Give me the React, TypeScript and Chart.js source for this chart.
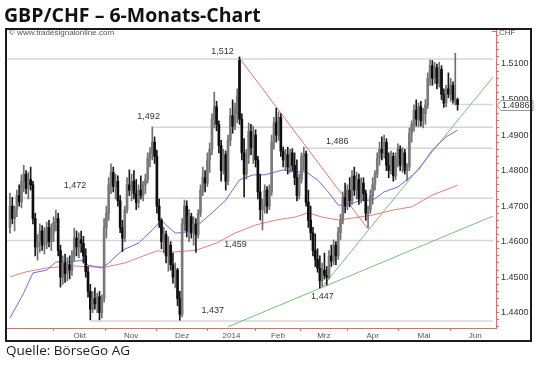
import React, { useEffect, useRef } from 'react';
import { Chart, registerables } from 'chart.js';
Chart.register(...registerables);

// Daily candles (weekday index 0..195)
const opens = [
  1.4640,1.4700,1.4665,1.4690,1.4730,1.4712,1.4770,1.4790,1.4750,1.4775,
  1.4760,1.4665,1.4585,1.4600,1.4630,1.4590,1.4595,1.4640,1.4600,1.4625,
  1.4655,1.4665,1.4575,1.4500,1.4540,1.4510,1.4535,1.4520,1.4560,1.4610,
  1.4585,1.4605,1.4595,1.4560,1.4515,1.4460,1.4410,1.4440,1.4425,1.4445,
  1.4400,1.4440,1.4640,1.4680,1.4760,1.4795,1.4755,1.4770,1.4715,1.4640,
  1.4610,1.4690,1.4760,1.4745,1.4770,1.4735,1.4710,1.4745,1.4730,1.4760,
  1.4775,1.4835,1.4850,1.4880,1.4840,1.4700,1.4660,1.4600,1.4620,1.4560,
  1.4590,1.4535,1.4500,1.4520,1.4440,1.4395,1.4650,1.4700,1.4630,1.4670,
  1.4625,1.4650,1.4620,1.4680,1.4745,1.4780,1.4765,1.4830,1.4860,1.4945,
  1.4980,1.4930,1.4870,1.4800,1.4845,1.4770,1.4885,1.4955,1.4925,1.4960,
  1.5110,1.4945,1.4850,1.4790,1.4840,1.4910,1.4865,1.4900,1.4830,1.4740,
  1.4690,1.4700,1.4745,1.4700,1.4740,1.4880,1.4935,1.4900,1.4950,1.4855,
  1.4830,1.4845,1.4810,1.4850,1.4815,1.4780,1.4730,1.4775,1.4840,1.4847,
  1.4711,1.4660,1.4625,1.4575,1.4550,1.4525,1.4490,1.4520,1.4505,1.4500,
  1.4560,1.4545,1.4590,1.4560,1.4625,1.4660,1.4725,1.4700,1.4745,1.4715,
  1.4785,1.4745,1.4775,1.4720,1.4765,1.4735,1.4680,1.4690,1.4730,1.4760,
  1.4790,1.4835,1.4860,1.4850,1.4880,1.4815,1.4800,1.4840,1.4785,1.4835,
  1.4860,1.4815,1.4850,1.4800,1.4810,1.4905,1.4930,1.4970,1.4945,1.4980,
  1.4940,1.4960,1.4985,1.5060,1.5095,1.5060,1.5090,1.5045,1.5085,1.5015,
  1.4990,1.5030,1.5015,1.5040,1.4995,1.5000,
];
const highs = [
  1.4737,1.4725,1.4700,1.4745,1.4760,1.4788,1.4815,1.4800,1.4795,1.4810,
  1.4770,1.4680,1.4620,1.4650,1.4645,1.4640,1.4655,1.4660,1.4650,1.4670,
  1.4689,1.4680,1.4590,1.4560,1.4565,1.4555,1.4560,1.4575,1.4638,1.4630,
  1.4625,1.4630,1.4615,1.4580,1.4530,1.4480,1.4460,1.4470,1.4455,1.4460,
  1.4450,1.4665,1.4700,1.4780,1.4819,1.4810,1.4790,1.4785,1.4730,1.4660,
  1.4700,1.4780,1.4802,1.4790,1.4800,1.4775,1.4760,1.4785,1.4770,1.4790,
  1.4850,1.4865,1.4923,1.4895,1.4858,1.4720,1.4665,1.4640,1.4630,1.4614,
  1.4600,1.4568,1.4540,1.4525,1.4460,1.4665,1.4717,1.4715,1.4690,1.4680,
  1.4670,1.4665,1.4690,1.4760,1.4810,1.4800,1.4850,1.4878,1.4960,1.5021,
  1.4995,1.4940,1.4885,1.4860,1.4855,1.4900,1.4975,1.4999,1.4990,1.5030,
  1.5120,1.4960,1.4890,1.4860,1.4934,1.4930,1.4925,1.4915,1.4840,1.4790,
  1.4720,1.4760,1.4755,1.4760,1.4900,1.4950,1.4976,1.4965,1.4960,1.4866,
  1.4860,1.4866,1.4860,1.4862,1.4850,1.4830,1.4790,1.4850,1.4866,1.4855,
  1.4745,1.4700,1.4640,1.4622,1.4580,1.4560,1.4540,1.4568,1.4530,1.4575,
  1.4590,1.4605,1.4600,1.4640,1.4677,1.4740,1.4765,1.4760,1.4780,1.4800,
  1.4810,1.4795,1.4790,1.4780,1.4780,1.4745,1.4700,1.4745,1.4780,1.4800,
  1.4850,1.4880,1.4895,1.4900,1.4890,1.4850,1.4855,1.4850,1.4850,1.4875,
  1.4870,1.4865,1.4860,1.4820,1.4920,1.4940,1.4985,1.4999,1.4990,1.4995,
  1.4975,1.5000,1.5075,1.5111,1.5110,1.5105,1.5100,1.5105,1.5095,1.5030,
  1.5040,1.5075,1.5060,1.5050,1.5130,1.5004,
];
const lows = [
  1.4624,1.4650,1.4630,1.4670,1.4700,1.4695,1.4740,1.4735,1.4720,1.4745,
  1.4650,1.4560,1.4548,1.4570,1.4575,1.4565,1.4580,1.4585,1.4575,1.4600,
  1.4630,1.4560,1.4472,1.4480,1.4485,1.4490,1.4495,1.4505,1.4545,1.4560,
  1.4555,1.4570,1.4540,1.4500,1.4444,1.4380,1.4400,1.4410,1.4400,1.4380,
  1.4385,1.4430,1.4610,1.4660,1.4735,1.4740,1.4720,1.4700,1.4625,1.4572,
  1.4600,1.4680,1.4730,1.4715,1.4720,1.4690,1.4695,1.4720,1.4715,1.4735,
  1.4765,1.4810,1.4830,1.4820,1.4680,1.4640,1.4580,1.4568,1.4540,1.4517,
  1.4520,1.4483,1.4470,1.4420,1.4379,1.4388,1.4630,1.4613,1.4600,1.4610,
  1.4590,1.4570,1.4610,1.4670,1.4730,1.4740,1.4755,1.4795,1.4845,1.4920,
  1.4912,1.4850,1.4770,1.4790,1.4745,1.4760,1.4870,1.4905,1.4915,1.4935,
  1.4930,1.4830,1.4726,1.4776,1.4820,1.4845,1.4820,1.4810,1.4720,1.4661,
  1.4633,1.4680,1.4680,1.4690,1.4730,1.4860,1.4880,1.4885,1.4840,1.4810,
  1.4800,1.4790,1.4795,1.4800,1.4760,1.4715,1.4720,1.4765,1.4800,1.4700,
  1.4640,1.4605,1.4560,1.4530,1.4514,1.4470,1.4475,1.4495,1.4478,1.4495,
  1.4530,1.4535,1.4535,1.4550,1.4605,1.4650,1.4681,1.4690,1.4698,1.4705,
  1.4730,1.4720,1.4705,1.4710,1.4715,1.4660,1.4638,1.4680,1.4705,1.4745,
  1.4780,1.4815,1.4830,1.4835,1.4800,1.4780,1.4790,1.4770,1.4775,1.4810,
  1.4800,1.4795,1.4790,1.4772,1.4800,1.4880,1.4910,1.4925,1.4923,1.4925,
  1.4920,1.4930,1.4975,1.5040,1.5040,1.5045,1.5030,1.5035,1.5000,1.4978,
  1.4980,1.5005,1.4995,1.4990,1.4985,1.4970,
];
const closes = [
  1.4700,1.4665,1.4690,1.4730,1.4712,1.4770,1.4790,1.4750,1.4775,1.4760,
  1.4665,1.4585,1.4600,1.4630,1.4590,1.4595,1.4640,1.4600,1.4625,1.4655,
  1.4665,1.4575,1.4500,1.4540,1.4510,1.4535,1.4520,1.4560,1.4610,1.4585,
  1.4605,1.4595,1.4560,1.4515,1.4460,1.4410,1.4440,1.4425,1.4445,1.4400,
  1.4440,1.4640,1.4680,1.4760,1.4795,1.4755,1.4770,1.4715,1.4640,1.4610,
  1.4690,1.4760,1.4745,1.4770,1.4735,1.4710,1.4745,1.4730,1.4760,1.4775,
  1.4835,1.4850,1.4880,1.4840,1.4700,1.4660,1.4600,1.4620,1.4560,1.4590,
  1.4535,1.4500,1.4520,1.4440,1.4395,1.4650,1.4700,1.4630,1.4670,1.4625,
  1.4650,1.4620,1.4680,1.4745,1.4780,1.4765,1.4830,1.4860,1.4945,1.4980,
  1.4930,1.4870,1.4800,1.4845,1.4770,1.4885,1.4955,1.4925,1.4975,1.5010,
  1.4945,1.4850,1.4790,1.4840,1.4910,1.4865,1.4900,1.4830,1.4740,1.4690,
  1.4700,1.4745,1.4700,1.4740,1.4880,1.4935,1.4900,1.4950,1.4855,1.4830,
  1.4845,1.4810,1.4850,1.4815,1.4780,1.4730,1.4775,1.4840,1.4847,1.4711,
  1.4660,1.4625,1.4575,1.4550,1.4525,1.4490,1.4520,1.4505,1.4500,1.4560,
  1.4545,1.4590,1.4560,1.4625,1.4660,1.4725,1.4700,1.4745,1.4715,1.4785,
  1.4745,1.4775,1.4720,1.4765,1.4735,1.4680,1.4690,1.4730,1.4760,1.4790,
  1.4835,1.4860,1.4850,1.4880,1.4815,1.4800,1.4840,1.4785,1.4835,1.4860,
  1.4815,1.4850,1.4800,1.4810,1.4905,1.4930,1.4970,1.4945,1.4980,1.4940,
  1.4960,1.4985,1.5060,1.5095,1.5060,1.5090,1.5045,1.5085,1.5015,1.4990,
  1.5030,1.5015,1.5040,1.5000,1.5000,1.4986,
];

// Moving averages
const blueMaIdx = [0,6,10,16,20,26,32,34,40,43,49,56,62,66,68,72,77,82,88,94,100,106,111,119,124,129,134,139,143,147,153,158,163,169,173,178,184,190,195];
const blueMaVal = [1.4385,1.4456,1.4512,1.4520,1.4543,1.4543,1.4548,1.4534,1.4526,1.4540,1.4576,1.4596,1.4633,1.4661,1.4647,1.4624,1.4627,1.4647,1.4681,1.4717,1.4774,1.4788,1.4788,1.4802,1.4796,1.4796,1.4774,1.4737,1.4703,1.4703,1.4717,1.4717,1.4740,1.4754,1.4774,1.4802,1.4858,1.4895,1.4914];
const redMaIdx = [0,7,16,27,34,42,50,59,64,72,81,90,98,107,116,124,130,136,143,150,158,167,175,184,195];
const redMaVal = [1.4501,1.4515,1.4526,1.4532,1.4529,1.4529,1.4540,1.4562,1.4574,1.4571,1.4576,1.4596,1.4624,1.4647,1.4661,1.4669,1.4681,1.4669,1.4661,1.4667,1.4675,1.4689,1.4698,1.4731,1.4759];

// Trend lines (start/end)
const downTrendIdx = [99.6, 155.7];
const downTrendVal = [1.5120, 1.4638];
const steepSupportIdx = [135.7, 210.4];
const steepSupportVal = [1.4470, 1.5063];
const flatSupportIdx = [94.8, 210.4];
const flatSupportVal = [1.4360, 1.4672];

// Horizontal level lines
const levelVals = [1.5114, 1.4922, 1.4863, 1.4722, 1.4603, 1.4377, 1.4986];
const levelStartIdx = [-1.3, 62, 128, -1.3, -1.3, 35, 192];
const levelEndIdx = 210.4;

// Level annotations
const noteTexts = ['1,512', '1,492', '1,472', '1,486', '1,459', '1,447', '1,437'];
const noteIdx = [92.6, 60.4, 28.3, 142.6, 98.3, 136.1, 88.3];
const noteVal = [1.5136, 1.4951, 1.4759, 1.4883, 1.4593, 1.4447, 1.4405];

const lastPrice = 1.4986;

// X axis months
const monthTickIdx = [19.0, 41.7, 63.9, 86.0, 107.0, 126.5, 147.0, 169.1, 191.7];
const monthLabelIdx = [30.35, 52.8, 74.95, 96.5, 116.75, 136.75, 158.05, 180.4, 202.7];
const monthLabels = ['Okt', 'Nov', 'Dez', '2014', 'Feb', 'Mrz', 'Apr', 'Mai', 'Jun'];

const AXIS_RED = '#e46a6a';
const FONT = '"Liberation Sans", Arial, sans-serif';

export default function App() {
  const ref = useRef<HTMLCanvasElement | null>(null);

  useEffect(() => {
    const canvas = ref.current;
    if (!canvas) return;
    const up = closes.map((c, i) => c >= opens[i]);
    const wickData = highs.map((h, i) => ({ x: i, y: [lows[i], h] }));
    const bodyData = opens.map((o, i) => ({ x: i, y: [Math.min(o, closes[i]), Math.max(o, closes[i])] }));

    const lineDs = (idx: number[], val: number[], color: string, width = 1, order = 1) => ({
      type: 'line' as const,
      data: idx.map((x, i) => ({ x, y: val[i] })),
      borderColor: color,
      borderWidth: width,
      pointRadius: 0,
      tension: 0,
      order,
    });

    const levelDatasets = levelVals.map((v, k) =>
      lineDs([levelStartIdx[k], levelEndIdx], [v, v], '#d6d6d6', 1.5, 3)
    );

    const overlay = {
      id: 'overlay',
      afterDraw(chart: any) {
        const { ctx, scales } = chart;
        const xs = scales.x;
        const ys = scales.y;
        ctx.save();
        ctx.font = `9px ${FONT}`;
        ctx.fillStyle = '#333';
        ctx.textAlign = 'center';
        ctx.textBaseline = 'middle';
        noteTexts.forEach((t, k) => {
          ctx.fillText(t, xs.getPixelForValue(noteIdx[k]), ys.getPixelForValue(noteVal[k]));
        });
        ctx.font = `8px ${FONT}`;
        ctx.fillStyle = '#555';
        ctx.textAlign = 'left';
        ctx.fillText('© www.tradesignalonline.com', 9, 33);
        ctx.fillText('CHF', 499, 33);
        ctx.strokeStyle = AXIS_RED;
        ctx.beginPath();
        ctx.moveTo(492, 31.5);
        ctx.lineTo(496, 31.5);
        ctx.stroke();
        const py = Math.round(ys.getPixelForValue(lastPrice)) + 0.5;
        const x0 = xs.right + 1;
        ctx.beginPath();
        ctx.moveTo(x0, py);
        ctx.lineTo(x0 + 4, py - 5);
        ctx.lineTo(x0 + 36, py - 5);
        ctx.lineTo(x0 + 36, py + 5);
        ctx.lineTo(x0 + 4, py + 5);
        ctx.closePath();
        ctx.fillStyle = '#fff';
        ctx.fill();
        ctx.strokeStyle = '#999';
        ctx.lineWidth = 1;
        ctx.stroke();
        ctx.fillStyle = '#333';
        ctx.font = `9px ${FONT}`;
        ctx.fillText(lastPrice.toFixed(4), x0 + 5, py + 0.5);
        ctx.restore();
      },
    };

    const chart = new Chart(canvas, {
      type: 'bar',
      data: {
        datasets: [
          {
            type: 'bar',
            data: bodyData as any,
            backgroundColor: up.map((u) => (u ? '#7a7a7a' : '#0d0d0d')),
            barThickness: 2,
            grouped: false,
            minBarLength: 1,
            order: 0,
          },
          {
            type: 'bar',
            data: wickData as any,
            backgroundColor: up.map((u) => (u ? '#707070' : '#1a1a1a')),
            barThickness: 1,
            grouped: false,
            order: 0,
          },
          lineDs(blueMaIdx, blueMaVal, '#6b6bf0'),
          lineDs(redMaIdx, redMaVal, '#ec7b7b'),
          lineDs(downTrendIdx, downTrendVal, '#ea7474'),
          lineDs(steepSupportIdx, steepSupportVal, '#78c078'),
          lineDs(flatSupportIdx, flatSupportVal, '#78c078'),
          ...levelDatasets,
        ] as any,
      },
      options: {
        responsive: false,
        animation: false,
        devicePixelRatio: 1,
        layout: { autoPadding: false, padding: { left: 7, top: 30, right: 10, bottom: 24 } },
        plugins: { legend: { display: false }, tooltip: { enabled: false } },
        scales: {
          x: {
            type: 'linear',
            min: -1.3,
            max: 211.74,
            offset: false,
            border: { color: AXIS_RED, width: 1 },
            grid: {
              drawOnChartArea: false,
              offset: false,
              tickLength: 3,
              tickColor: (c: any) =>
                c.tick && monthTickIdx.includes(c.tick.value) ? AXIS_RED : 'rgba(0,0,0,0)',
            },
            afterBuildTicks: (s: any) => {
              s.ticks = [...monthTickIdx, ...monthLabelIdx].sort((a, b) => a - b).map((v) => ({ value: v }));
            },
            afterFit: (s: any) => {
              s.height = 14;
            },
            ticks: {
              autoSkip: false,
              maxRotation: 0,
              padding: 0,
              color: '#555',
              font: { family: FONT, size: 8 },
              callback: (v: any) => {
                const k = monthLabelIdx.indexOf(v);
                return k >= 0 ? monthLabels[k] : '';
              },
            },
          },
          y: {
            type: 'linear',
            position: 'right',
            min: 1.4357,
            max: 1.51957,
            border: { color: AXIS_RED, width: 1 },
            grid: { drawOnChartArea: false, tickLength: 3, tickColor: AXIS_RED },
            afterFit: (s: any) => {
              s.width = 34;
            },
            ticks: {
              stepSize: 0.002,
              includeBounds: false,
              autoSkip: false,
              padding: 2,
              color: '#333',
              font: { family: FONT, size: 9 },
              callback: (v: any) => {
                const n = Number(v);
                return Math.abs(n * 100 - Math.round(n * 100)) < 1e-6 ? n.toFixed(4) : '';
              },
            },
          },
        },
      },
      plugins: [overlay],
    });
    return () => chart.destroy();
  }, []);

  return (
    <div style={{ position: 'absolute', left: 0, top: 0, width: 540, height: 366, background: '#fff', overflow: 'hidden' }}>
      <canvas ref={ref} width={540} height={366} style={{ position: 'absolute', left: 0, top: 0, width: 540, height: 366 }} />
      <div
        style={{
          position: 'absolute', left: 5, top: 28, width: 527, height: 314,
          border: '2px solid #1a1a1a', boxSizing: 'border-box', pointerEvents: 'none',
        }}
      />
      <div
        style={{
          position: 'absolute', left: 4, top: 1, fontFamily: '"Open Sans", sans-serif', fontWeight: 700,
          fontSize: 19.5, lineHeight: 'normal', color: '#111', whiteSpace: 'nowrap',
        }}
      >
        GBP/CHF – 6-Monats-Chart
      </div>
      <div
        style={{
          position: 'absolute', left: 6, top: 341, fontFamily: '"Open Sans", sans-serif',
          fontSize: 13.5, lineHeight: 'normal', color: '#222', whiteSpace: 'nowrap',
        }}
      >
        Quelle: BörseGo AG
      </div>
    </div>
  );
}
